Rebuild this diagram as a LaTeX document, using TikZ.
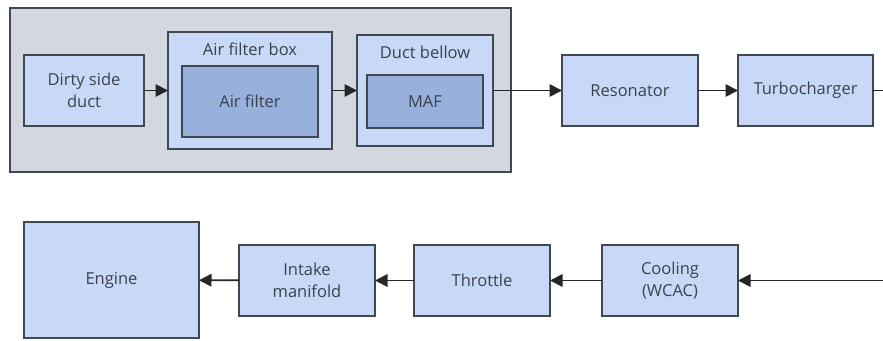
\documentclass[tikz,border=0pt]{standalone}
\usepackage{fontspec}
\setmainfont{Open Sans}
\usetikzlibrary{arrows.meta}
\definecolor{groupgray}{HTML}{D3D8E0}
\definecolor{boxblue}{HTML}{C7D9F7}
\definecolor{innerblue}{HTML}{98B1DC}
\definecolor{edgegray}{HTML}{404852}
\definecolor{textgray}{HTML}{3A424D}
\tikzset{
  base/.style={draw=edgegray, line width=1.8pt, inner sep=0pt, outer sep=0pt,
    text=textgray, align=center, font=\fontsize{16.5}{22.5}\selectfont},
  group/.style={base, fill=groupgray},
  block/.style={base, fill=boxblue},
  inner block/.style={base, fill=innerblue},
  title/.style={text=textgray, inner sep=0pt, font=\fontsize{16.5}{22.5}\selectfont},
  link/.style={draw=black!85, line width=1.8pt},
  flow/.style={link, -{Triangle[length=12.5pt,width=12.5pt]}},
}
\begin{document}
\begin{tikzpicture}[x=1pt, y=-1pt]
  \useasboundingbox (0,0) rectangle (883,340);

  % filter assembly group
  \node[group, minimum width=501pt, minimum height=164pt] (assembly) at (260.5,90) {};
  \node[block, minimum width=120pt, minimum height=71pt] (dirty) at (84,90.5) {Dirty side\\duct};
  \node[block, minimum width=164pt, minimum height=117pt] (afbox) at (250,90.5) {};
  \node[title] (afboxtitle) at (250,49.5) {Air filter box};
  \node[inner block, minimum width=136pt, minimum height=71pt] (afilter) at (250,101.5) {Air filter};
  \node[block, minimum width=136pt, minimum height=111pt] (bellow) at (425,90.5) {};
  \node[title] (bellowtitle) at (425,52.5) {Duct bellow};
  \node[inner block, minimum width=116pt, minimum height=53pt] (maf) at (425,101.5) {MAF};

  % upper line
  \node[block, minimum width=136pt, minimum height=71pt] (reson) at (630,90.5) {Resonator};
  \node[block, minimum width=135pt, minimum height=71pt] (turbo) at (805.5,90.5) {Turbocharger};
  \coordinate (upperout) at (883,90.5);

  % lower line
  \node[block, minimum width=175pt, minimum height=116pt] (engine) at (111.5,280) {Engine};
  \node[block, minimum width=136pt, minimum height=71pt] (manifold) at (307,280.5) {Intake\\manifold};
  \node[block, minimum width=136pt, minimum height=71pt] (throttle) at (482,280.5) {Throttle};
  \node[block, minimum width=136pt, minimum height=71pt] (cooling) at (670,280.5) {Cooling\\(WCAC)};
  \coordinate (lowerin) at (883,280.5);

  % air flow
  \draw[flow] (dirty) -- (afbox);
  \draw[flow] (afbox) -- (bellow);
  \draw[flow] (bellow) -- (reson);
  \draw[flow] (reson) -- (turbo);
  \draw[link] (turbo) -- (upperout);
  \draw[flow] (lowerin) -- (cooling);
  \draw[flow] (cooling) -- (throttle);
  \draw[flow] (throttle) -- (manifold);
  \draw[flow] (manifold) -- (engine);
\end{tikzpicture}
\end{document}
